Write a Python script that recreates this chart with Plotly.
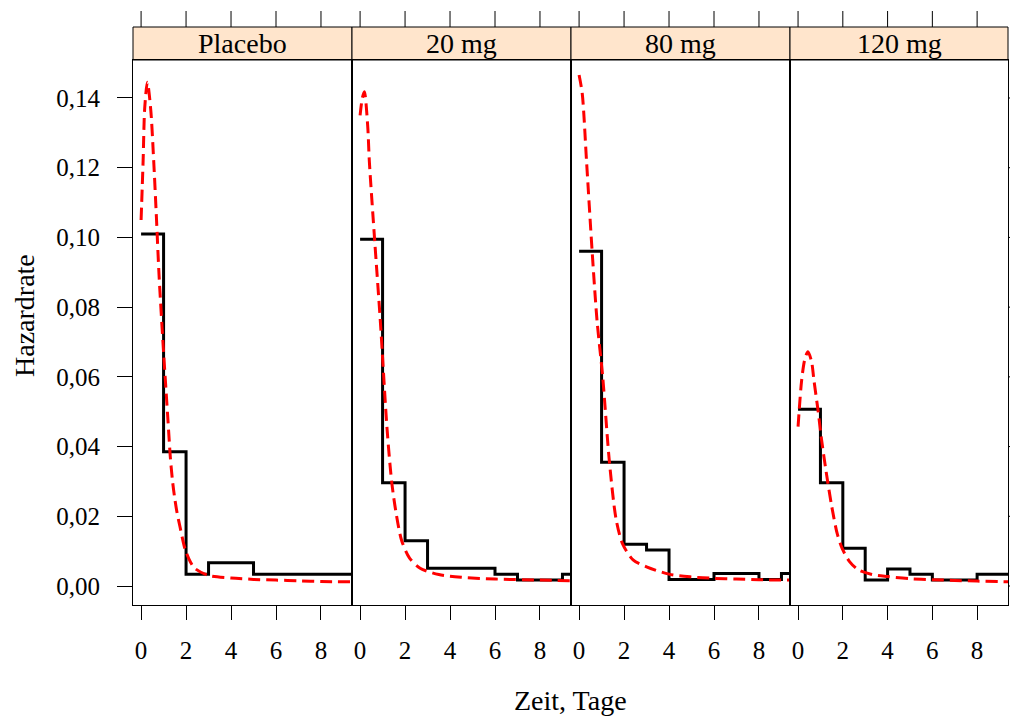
import plotly.graph_objects as go

panels = ["Placebo", "20 mg", "80 mg", "120 mg"]

# Kaplan-Meier style hazard steps (interval break points and hazard per interval)
step_breaks = [
    [0, 1, 2, 3, 5, 9.6],
    [0, 1, 2, 3, 6, 7, 9, 9.6],
    [0, 1, 2, 3, 4, 6, 8, 9, 9.6],
    [0, 1, 2, 3, 4, 5, 6, 8, 9.6],
]
step_values = [
    [0.101, 0.0385, 0.0034, 0.0067, 0.0034],
    [0.0995, 0.0296, 0.0130, 0.0051, 0.0034, 0.0017, 0.0034],
    [0.096, 0.0355, 0.0120, 0.0103, 0.0019, 0.0036, 0.0019, 0.0036],
    [0.0507, 0.0296, 0.0108, 0.0017, 0.0049, 0.0034, 0.0017, 0.0034],
]

# Fitted parametric hazard
fit_x = [
    [0.0, 0.09, 0.16, 0.28, 0.43, 0.56, 0.68, 0.8, 1.0, 1.1, 1.2, 1.3, 1.4, 1.5, 1.6, 1.73, 1.96, 2.2, 2.4, 3.0, 4.0, 5.0, 6.0, 7.0, 8.0, 9.4],
    [0.0, 0.1, 0.19, 0.34, 0.41, 0.65, 0.9, 1.2, 1.41, 1.6, 1.85, 2.2, 2.67, 3.5, 4.5, 6.0, 8.0, 9.4],
    [0.0, 0.14, 0.33, 0.58, 0.8, 1.05, 1.35, 1.65, 1.94, 2.4, 3.0, 4.0, 5.0, 6.0, 7.0, 8.0, 9.4],
    [0.0, 0.16, 0.3, 0.44, 0.6, 0.71, 0.89, 1.05, 1.25, 1.5, 1.75, 1.97, 2.3, 2.7, 3.3, 4.0, 5.0, 6.0, 7.0, 8.0, 9.4],
]
fit_y = [
    [0.105, 0.122, 0.137, 0.1445, 0.1366, 0.122, 0.106, 0.089, 0.067, 0.057, 0.047, 0.037, 0.030, 0.025, 0.021, 0.017, 0.0105, 0.0068, 0.005, 0.003, 0.0023, 0.0019, 0.0017, 0.0015, 0.0013, 0.0012],
    [0.135, 0.140, 0.1418, 0.1318, 0.122, 0.099, 0.076, 0.045, 0.0296, 0.021, 0.013, 0.008, 0.0051, 0.0033, 0.0025, 0.002, 0.0017, 0.0015],
    [0.1466, 0.1413, 0.122, 0.096, 0.076, 0.06, 0.0355, 0.019, 0.012, 0.0075, 0.0055, 0.0034, 0.0026, 0.0022, 0.002, 0.0018, 0.0017],
    [0.0457, 0.059, 0.065, 0.0672, 0.0645, 0.059, 0.0505, 0.042, 0.033, 0.023, 0.015, 0.0108, 0.007, 0.0046, 0.0033, 0.0027, 0.0021, 0.0018, 0.0016, 0.0014, 0.0012],
]

x_ticks = [0, 2, 4, 6, 8]
y_ticks = [0.0, 0.02, 0.04, 0.06, 0.08, 0.10, 0.12, 0.14]
y_tick_text = ["0,00", "0,02", "0,04", "0,06", "0,08", "0,10", "0,12", "0,14"]
x_title = "Zeit, Tage"
y_title = "Hazardrate"

FONT = "Liberation Serif, Times New Roman, serif"
TICK_SIZE = 25
TEXT_SIZE = 28
W, H = 1010, 716
L, R, T, B = 133, 2, 27, 111
plot_w = W - L - R
plot_h = H - T - B
strip_h = 33
ytop = 1 - strip_h / plot_h
xr = [-0.36, 9.38]
yr = [-0.00545, 0.1509]

fig = go.Figure()
layout = dict(
    width=W, height=H, autosize=False,
    margin=dict(l=L, r=R, t=T, b=B, pad=0, autoexpand=False),
    paper_bgcolor="white", plot_bgcolor="white",
    showlegend=False,
    font=dict(family=FONT, size=TICK_SIZE, color="black"),
)
shapes = []
annotations = []
edges = [133, 352, 571, 790, 1008]
for i, name in enumerate(panels):
    n = "" if i == 0 else str(i + 1)
    xa, ya = "x" + n, "y" + n
    d0 = (edges[i] - L) / plot_w
    d1 = (edges[i + 1] - L) / plot_w
    bx = step_breaks[i]
    by = step_values[i] + [step_values[i][-1]]
    fig.add_trace(go.Scatter(x=bx, y=by, mode="lines", line=dict(color="black", width=3, shape="hv"),
                             xaxis=xa, yaxis=ya, hoverinfo="skip"))
    fig.add_trace(go.Scatter(x=fit_x[i], y=fit_y[i], mode="lines",
                             line=dict(color="#FF0000", width=3, dash="12px,6px", shape="spline", smoothing=0.8),
                             xaxis=xa, yaxis=ya, hoverinfo="skip"))
    layout["xaxis" + n] = dict(
        domain=[d0, d1], range=xr, anchor=ya, tickvals=x_ticks, ticktext=[str(v) for v in x_ticks],
        ticks="outside", ticklen=14, tickwidth=1, tickcolor="black", showgrid=False, zeroline=False,
        showline=True, linecolor="black", linewidth=1, mirror=True, ticklabelstandoff=9, automargin=False,
        tickfont=dict(family=FONT, size=TICK_SIZE, color="black"), fixedrange=True,
    )
    ydict = dict(
        domain=[0, ytop], range=yr, anchor=xa, showgrid=False, zeroline=False, automargin=False,
        showline=True, linecolor="black", linewidth=1, mirror=True, fixedrange=True,
        tickvals=y_ticks, ticktext=y_tick_text,
    )
    if i == 0:
        ydict.update(ticks="outside", ticklen=15, tickwidth=1, tickcolor="black", ticklabelstandoff=12,
                     tickfont=dict(family=FONT, size=TICK_SIZE, color="black"))
    else:
        ydict.update(ticks="", showticklabels=False)
    layout["yaxis" + n] = ydict
    # strip
    shapes.append(dict(type="rect", xref="paper", yref="paper", x0=d0, x1=d1, y0=ytop, y1=1,
                       fillcolor="#FFE5CC", line=dict(color="black", width=1), layer="below"))
    annotations.append(dict(text=name, xref="paper", yref="paper", x=(d0 + d1) / 2, y=(ytop + 1) / 2,
                            showarrow=False, xanchor="center", yanchor="middle",
                            font=dict(family=FONT, size=TEXT_SIZE, color="black")))
    # top ticks above strip
    for v in x_ticks:
        shapes.append(dict(type="line", xref=xa, yref="paper", x0=v, x1=v, y0=1, y1=1 + 16 / plot_h,
                           line=dict(color="black", width=1)))

# right-hand ticks of the last panel
for v in y_ticks:
    shapes.append(dict(type="line", xref="paper", yref="y4", x0=1, x1=1 + 15 / plot_w, y0=v, y1=v,
                       line=dict(color="black", width=1)))

annotations.append(dict(text=x_title, xref="paper", yref="paper", x=0.5, y=-(700 - (T + plot_h)) / plot_h,
                        showarrow=False, xanchor="center", yanchor="middle",
                        font=dict(family=FONT, size=TEXT_SIZE, color="black")))
annotations.append(dict(text=y_title, xref="paper", yref="paper", x=-(L - 24) / plot_w, y=1 - (316 - T) / plot_h,
                        showarrow=False, xanchor="center", yanchor="middle", textangle=-90,
                        font=dict(family=FONT, size=TEXT_SIZE, color="black")))
layout["shapes"] = shapes
layout["annotations"] = annotations
fig.update_layout(**layout)
fig.write_html(
    "out.html",
    config={"responsive": False, "displayModeBar": False, "staticPlot": True},
    post_script="document.body.style.margin='0';document.body.style.padding='0';"
                "document.body.style.overflow='hidden';document.documentElement.style.overflow='hidden';",
)
